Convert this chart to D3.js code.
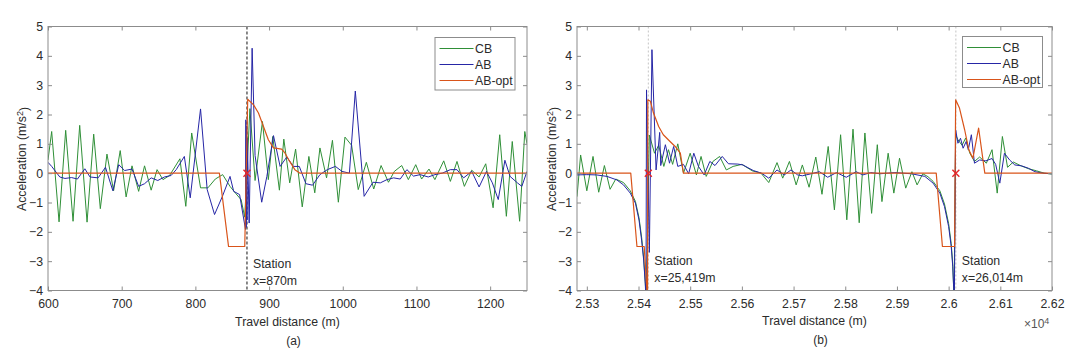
<!DOCTYPE html>
<html lang="en">
<head>
<meta charset="UTF-8">
<title>Acceleration vs travel distance</title>
<script src="https://cdn.jsdelivr.net/npm/d3@7/dist/d3.min.js"></script>
<style>
  body { margin: 0; background: #fff; }
  svg { display: block; font-family: "Liberation Sans", Arial, sans-serif; }
</style>
</head>
<body>
<svg id="chart" width="1080" height="352"></svg>
<script>
// ---- data ----
const seriesNames = ["CB", "AB", "AB-opt"];
const yTicks = [-4, -3, -2, -1, 0, 1, 2, 3, 4, 5];
const xTicksA = [600, 700, 800, 900, 1000, 1100, 1200];
const xTicksB = [25300, 25400, 25500, 25600, 25700, 25800, 25900, 26000, 26100, 26200];
const xDomainA = [600, 1250];
const xDomainB = [25281, 26200];
const stationsA = [870];
const stationsB = [25419, 26014];
const stationLabelsA = ["x=870m"];
const stationLabelsB = ["x=25,419m", "x=26,014m"];

// panel (a)  [distance m, acceleration m/s2]
const cbA = [[600,0.45],[605,1.42],[615,-1.66],[624,1.46],[634,-1.64],[643,1.63],[653,-1.67],[662,1.33],[671,-1.21],[680,0.65],[689,-0.6],[698,0.77],[706,-0.81],[714,0.25],[723,-0.62],[731,0.25],[740,-0.58],[748,0.12],[756,-0.22],[765,-0.08],[779,0.49],[787,-1.13],[795,1.37],[807,-0.5],[817,-0.5],[827,-0.2],[837,-0.05],[847,-0.45],[855,-0.7],[862,-0.9],[867,-1.5],[874,2.2],[881,-0.25],[891,1.76],[899,-0.22],[905,1.25],[914,-0.58],[920,1.16],[928,-0.33],[936,0.82],[945,-1.15],[954,0.57],[962,-0.67],[969,0.86],[978,-0.16],[986,1.12],[994,-0.99],[1003,1.23],[1012,0.95],[1021,-0.56],[1032,0.37],[1042,-0.54],[1052,0.26],[1062,-0.31],[1070,0.06],[1080,0.26],[1089,-0.22],[1099,0.29],[1107,-0.2],[1117,0.14],[1125,-0.22],[1137,0.42],[1146,-0.28],[1155,0.4],[1165,-0.45],[1175,0.1],[1185,-0.13],[1194,0.32],[1204,-1.18],[1213,1.31],[1222,-1.47],[1230,1.08],[1240,-1.64],[1247,1.42],[1250,1.0]];
const abA = [[600,0.37],[605,0.23],[616,-0.13],[623,-0.18],[632,-0.15],[640,-0.2],[650,0.15],[657,-0.13],[668,-0.16],[678,0.2],[688,-0.6],[696,0.29],[704,0.09],[714,0.14],[723,-0.45],[731,-0.36],[740,-0.16],[749,-0.25],[758,-0.13],[767,-0.08],[774,0.12],[785,0.57],[793,-0.84],[807,2.19],[816,-0.56],[826,-1.41],[837,-0.77],[847,-0.11],[852,-0.62],[860,-0.73],[868,-1.92],[868.5,1.82],[869,-1.85],[869.5,1.6],[870,-1.6],[870.5,1.2],[873,-1.7],[877,4.26],[881,0.6],[890,-0.99],[897,-0.11],[906,1.28],[915,0.23],[924,0.55],[933,0.23],[941,0.23],[950,-0.36],[959,-0.41],[969,-0.05],[979,0.12],[990,0.23],[999,0.06],[1009,0],[1017,2.8],[1029,-0.79],[1041,-0.31],[1051,-0.33],[1060,-0.22],[1069,-0.16],[1078,-0.2],[1087,0.12],[1096,-0.1],[1105,-0.05],[1116,-0.13],[1125,-0.05],[1135,0],[1146,0.12],[1155,0.12],[1164,-0.16],[1175,0.06],[1185,-0.47],[1195,0.06],[1203,-0.33],[1211,-0.9],[1220,0.44],[1227,-0.11],[1237,-0.33],[1243,-0.45],[1250,0.06]];
const optA = [[600,0],[832.6,0],[845,-2.5],[867,-2.5],[871,2.52],[879,2.33],[885.6,2.05],[892.4,1.59],[899,1.14],[906,0.86],[917,0.82],[921.5,0.69],[928,0.4],[935,0.12],[942,0],[1250,0]];

// panel (b)
const cbB = [[25281,-0.8],[25288,0.62],[25300,-0.6],[25312,0.57],[25323,-0.65],[25334,0.26],[25345,-0.55],[25356,-0.2],[25371,-0.32],[25384,-0.6],[25394,-0.96],[25401,-1.52],[25406,-2.18],[25410,-2.9],[25413,-3.7],[25415,-4.3],[25421,1.3],[25431,0.68],[25439,0.95],[25449,0.23],[25458,0.8],[25466,0.3],[25476,1.0],[25487,0],[25500,0.68],[25512,-0.06],[25521,0.57],[25531,-0.11],[25544,0.4],[25557,0.57],[25570,0.11],[25583,0.23],[25600,0.3],[25620,0.08],[25637,0],[25652,-0.32],[25668,0.36],[25679,-0.17],[25692,0.4],[25705,-0.4],[25717,0.28],[25730,-0.48],[25743,0.55],[25755,-0.72],[25767,0.91],[25779,-1.25],[25791,1.31],[25803,-1.59],[25815,1.5],[25827,-1.69],[25838,1.37],[25851,-1.37],[25862,0.97],[25871,-0.97],[25883,0.68],[25894,-0.68],[25905,0.51],[25917,-0.51],[25929,0.05],[25939,-0.4],[25950,-0.02],[25960,-0.12],[25970,-0.28],[25983,-0.6],[25992,-1.05],[26000,-1.72],[26005,-2.4],[26008,-3.1],[26010.5,-4.3],[26013.6,1.3],[26018,1.14],[26026,0.95],[26033,1.2],[26041,0.68],[26050,0.4],[26060,0.55],[26073,0.34],[26084,0.8],[26094,-0.68],[26104,1.25],[26114,0.2],[26125,0.38],[26140,0.25],[26155,0.15],[26170,0.08],[26185,0],[26200,-0.03]];
const abB = [[25281,-0.06],[25300,-0.05],[25319,-0.06],[25339,-0.11],[25358,-0.23],[25371,-0.4],[25384,-0.68],[25394,-1.02],[25401,-1.6],[25406,-2.28],[25410,-2.96],[25413,-3.75],[25414.5,-4.3],[25415.5,2.84],[25421,-2.7],[25426,4.21],[25434,0.11],[25441,1.39],[25443,0.26],[25452,0.97],[25460,0.34],[25468,0.91],[25476,0.23],[25487,0.3],[25497,-0.02],[25507,0.68],[25516,0.23],[25527,-0.06],[25538,0.4],[25548,0.26],[25562,0.57],[25574,0.32],[25592,0.31],[25602,0.28],[25622,0.09],[25638,0],[25652,-0.17],[25668,0.11],[25682,-0.06],[25695,0.11],[25708,-0.06],[25717,-0.09],[25734,-0.02],[25750,0.05],[25766,-0.14],[25783,0.02],[25802,-0.14],[25821,0.05],[25834,-0.06],[25849,0.02],[25867,-0.02],[25896,0.02],[25928,-0.02],[25954,-0.11],[25970,-0.34],[25983,-0.68],[25992,-1.14],[26000,-1.82],[26005,-2.5],[26008,-3.19],[26010,-4.0],[26011,-4.5],[26013.6,1.48],[26018,1.02],[26023,1.19],[26028,0.85],[26034,1.08],[26038,0.8],[26044,1.31],[26050,0.34],[26060,0.45],[26072,0.42],[26084,0.5],[26091,0.3],[26099,-0.34],[26108,0.68],[26118,0.45],[26128,0.28],[26141,0.25],[26154,0.17],[26167,0.05],[26182,0],[26200,-0.02]];
const optB = [[25281,0],[25385,0],[25397,-2.5],[25411,-2.5],[25417.5,-4.3],[25418,2.5],[25423,2.45],[25429,2.05],[25439,1.59],[25448,1.31],[25461,1.08],[25471,0.91],[25481,0.68],[25487,0],[25976,0],[25988,-2.5],[26011.6,-2.5],[26013.6,2.5],[26021,2.22],[26031,1.48],[26039,0.8],[26047,0.51],[26058,1.54],[26070,0],[26200,0]];

// ---- drawing ----
const colors = ["#2f8f37", "#2626a6", "#d9541a"];
const widths = [1, 1, 1.2];
const plotTop = 26.5, plotBottom = 290.5;
const svg = d3.select("#chart");

const panels = [
  {id: "a", left: 48, right: 527, xDomain: xDomainA, xTicks: xTicksA, fmt: d => d,
   series: [cbA, abA, optA], stations: stationsA, stationLabels: stationLabelsA,
   stationStyle: {stroke: "#111", dash: "3,2", width: 1},
   legend: {x: 435, y: 37.5, w: 80, h: 52.5}, labelY: [267.5, 284.5],
   yLabelX: 22, xLabelY: 325.5, capY: 344.5},
  {id: "b", left: 577, right: 1052, xDomain: xDomainB, xTicks: xTicksB, fmt: d => +(d / 1e4).toFixed(2),
   series: [cbB, abB, optB], stations: stationsB, stationLabels: stationLabelsB,
   stationStyle: {stroke: "#c4c4c4", dash: "2,2", width: 1},
   legend: {x: 962.5, y: 36.5, w: 80, h: 51}, labelY: [265, 281.5],
   yLabelX: 552, xLabelY: 325, capY: 344}
];

panels.forEach(p => {
  const x = d3.scaleLinear().domain(p.xDomain).range([p.left, p.right]);
  const y = d3.scaleLinear().domain([-4, 5]).range([plotBottom, plotTop]);
  const g = svg.append("g").attr("class", "panel-" + p.id);

  g.append("clipPath").attr("id", "clip-" + p.id)
    .append("rect").attr("x", p.left).attr("y", plotTop)
    .attr("width", p.right - p.left).attr("height", plotBottom - plotTop);

  // station lines
  g.selectAll("line.station").data(p.stations).join("line")
    .attr("class", "station")
    .attr("x1", d => x(d)).attr("x2", d => x(d))
    .attr("y1", plotTop).attr("y2", plotBottom)
    .attr("stroke", p.stationStyle.stroke)
    .attr("stroke-dasharray", p.stationStyle.dash)
    .attr("stroke-width", p.stationStyle.width);

  // series
  const line = d3.line().x(d => x(d[0])).y(d => y(d[1]));
  const plot = g.append("g").attr("clip-path", "url(#clip-" + p.id + ")");
  p.series.forEach((s, i) => {
    plot.append("path").datum(s)
      .attr("fill", "none")
      .attr("stroke", colors[i])
      .attr("stroke-width", widths[i])
      .attr("stroke-linejoin", "round")
      .attr("d", line);
  });

  // red crosses at station zero point
  p.stations.forEach(s => {
    const cx = x(s), cy = y(0), r = 3.5;
    g.append("path")
      .attr("d", `M${cx - r},${cy - r}L${cx + r},${cy + r}M${cx - r},${cy + r}L${cx + r},${cy - r}`)
      .attr("stroke", "#e8262a").attr("stroke-width", 1.4).attr("fill", "none");
  });

  // axes with inward ticks on all four sides
  const axisColor = "#8c8c8c";
  const textColor = "#2b2b2b";
  const axes = g.append("g");
  axes.append("g").attr("transform", `translate(0,${plotBottom})`)
    .call(d3.axisBottom(x).tickValues(p.xTicks).tickSizeInner(-4).tickSizeOuter(0)
      .tickPadding(9).tickFormat(p.fmt));
  axes.append("g").attr("transform", `translate(0,${plotTop})`)
    .call(d3.axisTop(x).tickValues(p.xTicks).tickSizeInner(-4).tickSizeOuter(0).tickFormat(""));
  axes.append("g").attr("transform", `translate(${p.left},0)`)
    .call(d3.axisLeft(y).tickValues(yTicks).tickSizeInner(-4).tickSizeOuter(0).tickPadding(5));
  axes.append("g").attr("transform", `translate(${p.right},0)`)
    .call(d3.axisRight(y).tickValues(yTicks).tickSizeInner(-4).tickSizeOuter(0).tickFormat(""));
  axes.selectAll(".domain").remove();
  axes.selectAll(".tick line").attr("stroke", axisColor);
  axes.selectAll(".tick text").attr("fill", textColor)
    .style("font-family", '"Liberation Sans", Arial, sans-serif').style("font-size", "12.3px");

  g.append("rect")
    .attr("x", p.left).attr("y", plotTop)
    .attr("width", p.right - p.left).attr("height", plotBottom - plotTop)
    .attr("fill", "none").attr("stroke", axisColor).attr("stroke-width", 1);

  // station annotations
  p.stations.forEach((s, i) => {
    const t = g.append("text").attr("fill", textColor).style("font-size", "12.3px");
    t.append("tspan").attr("x", x(s) + 6).attr("y", p.labelY[0]).text("Station");
    t.append("tspan").attr("x", x(s) + 6).attr("y", p.labelY[1]).text(p.stationLabels[i]);
  });

  // legend
  const lg = g.append("g").attr("class", "legend");
  lg.append("rect").attr("x", p.legend.x).attr("y", p.legend.y)
    .attr("width", p.legend.w).attr("height", p.legend.h)
    .attr("fill", "#fff").attr("stroke", axisColor);
  const rows = lg.selectAll("g.row").data(seriesNames).join("g")
    .attr("class", "row")
    .attr("transform", (d, i) => `translate(${p.legend.x},${p.legend.y + 11 + i * 16})`);
  rows.append("line").attr("x1", 4.5).attr("x2", 38.5)
    .attr("stroke", (d, i) => colors[i]).attr("stroke-width", 1.2);
  rows.append("text").attr("x", 40).attr("y", 4.3)
    .attr("fill", textColor).style("font-size", "12.3px").text(d => d);

  // axis labels
  const midX = (p.left + p.right) / 2;
  g.append("text").attr("x", midX).attr("y", p.xLabelY)
    .attr("text-anchor", "middle").attr("fill", textColor).style("font-size", "12.3px")
    .text("Travel distance (m)");
  const yl = g.append("text")
    .attr("transform", `translate(${p.yLabelX},159) rotate(-90)`)
    .attr("text-anchor", "middle").attr("dy", "0.35em")
    .attr("fill", textColor).style("font-size", "12.3px");
  yl.append("tspan").text("Acceleration (m/s");
  yl.append("tspan").attr("dy", "-0.4em").style("font-size", "9px").text("2");
  yl.append("tspan").attr("dy", "0.4em").text(")");

  g.append("text").attr("x", midX + 6).attr("y", p.capY)
    .attr("text-anchor", "middle").attr("fill", textColor).style("font-size", "12px")
    .text("(" + p.id + ")");

  if (p.id === "b") {
    const e = g.append("text").attr("x", 1024).attr("y", 328)
      .attr("fill", "#555").style("font-size", "12px");
    e.append("tspan").text("\u00d710");
    e.append("tspan").attr("dy", "-0.5em").style("font-size", "9px").text("4");
  }
});
</script>
</body>
</html>
